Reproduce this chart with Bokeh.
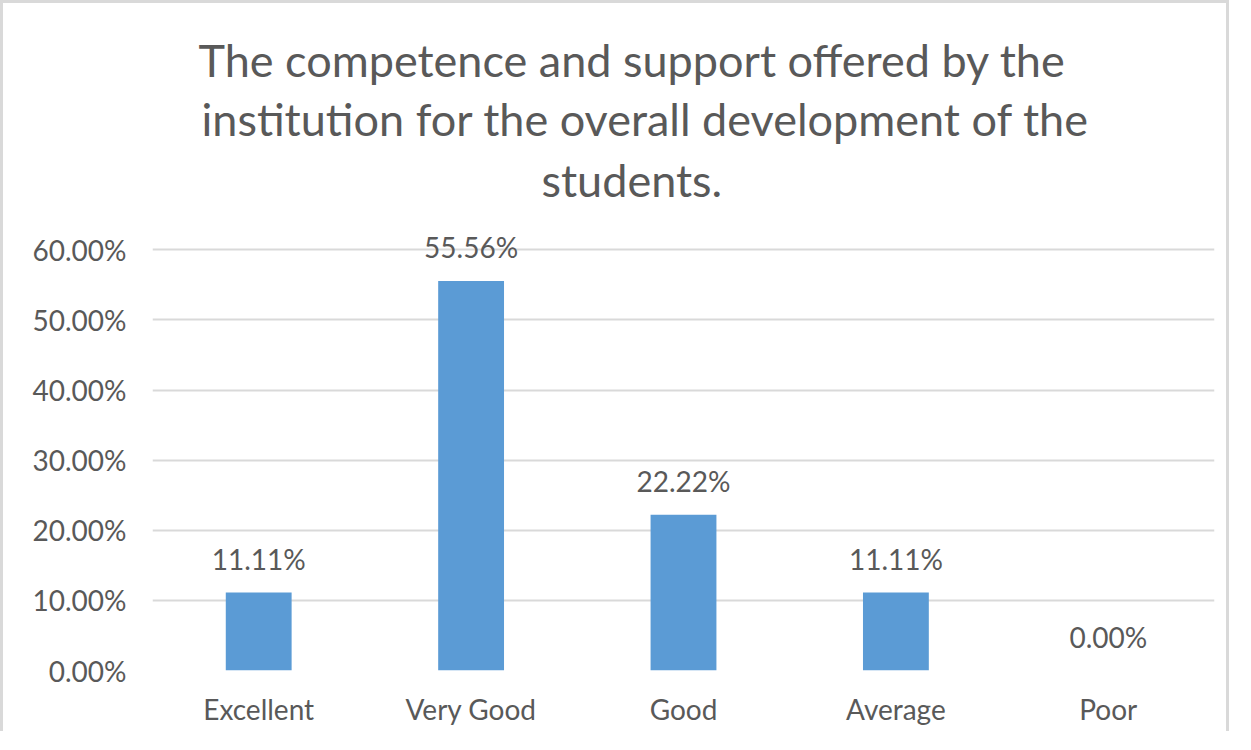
from bokeh.plotting import figure
from bokeh.models import FactorRange, Range1d, FixedTicker, NumeralTickFormatter, Title, ColumnDataSource
from bokeh.core.properties import value
from bokeh.embed import file_html
from bokeh.resources import INLINE

categories = ["Excellent", "Very Good", "Good", "Average", "Poor"]
values = [0.1111, 0.5556, 0.2222, 0.1111, 0.0]
labels = ["11.11%", "55.56%", "22.22%", "11.11%", "0.00%"]
y_ticks = [0.0, 0.1, 0.2, 0.3, 0.4, 0.5, 0.6]
title_lines = ["The competence and support offered by the",
               "institution for the overall development of the",
               "students."]

FONT = "Lato"
GRAY = "#595959"

src = ColumnDataSource(dict(cat=categories, val=values, lab=labels))

p = figure(x_range=FactorRange(*categories, range_padding=0),
           y_range=Range1d(0, 0.656),
           width=1229, height=731, output_backend="svg", toolbar_location=None,
           min_border_left=149, min_border_right=18, min_border_bottom=64,
           min_border_top=207)
p.styles = {"border-top": "3px solid #D9D9D9", "border-left": "3px solid #D9D9D9",
            "border-right": "3px solid #D9D9D9"}

# offsets from the plot frame's left edge, so the title is centred on the chart
title_offsets = [46, 49, 389]
title_standoffs = [3, 3, 7]
for line, off, so in reversed(list(zip(title_lines, title_offsets, title_standoffs))):
    p.add_layout(Title(text=line, align="left", offset=off, text_font=FONT,
                       text_font_size="45px", text_font_style="normal",
                       text_color=GRAY, standoff=so), "above")

p.vbar(x="cat", top="val", width=0.31, source=src, fill_color="#5B9BD5", line_color=None)
p.text(x="cat", y="val", text="lab", source=src, text_align="center", text_baseline="bottom",
       y_offset=-17, text_font=value(FONT), text_font_size="28px", text_color=GRAY)

p.yaxis.ticker = FixedTicker(ticks=y_ticks)
p.yaxis.formatter = NumeralTickFormatter(format="0.00%")
for ax in (p.xaxis[0], p.yaxis[0]):
    ax.axis_line_color = None
    ax.major_tick_line_color = None
    ax.minor_tick_line_color = None
    ax.major_label_text_font = FONT
    ax.major_label_text_font_size = "28px"
    ax.major_label_text_color = GRAY
p.yaxis.major_label_standoff = 20
p.xaxis.major_label_standoff = 15
p.xgrid.grid_line_color = None
p.ygrid.grid_line_color = "#D9D9D9"
p.ygrid.grid_line_width = 2
p.outline_line_color = None

open("out.html", "w").write(file_html(p, INLINE))
